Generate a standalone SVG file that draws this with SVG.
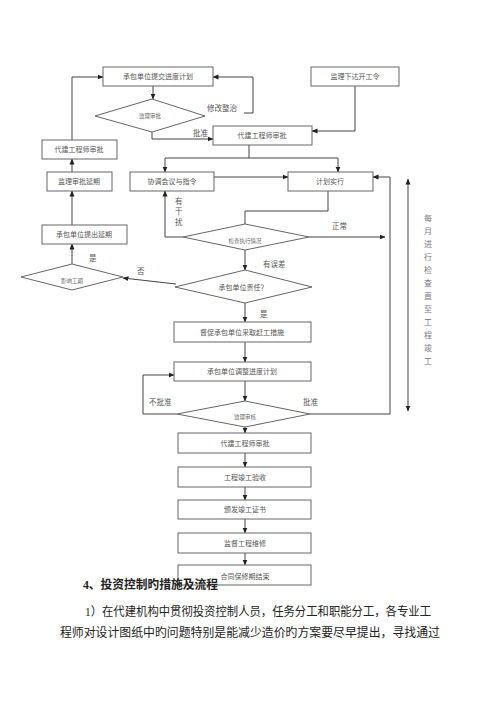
<svg xmlns="http://www.w3.org/2000/svg" width="500" height="707" viewBox="0 0 500 707">
<defs>
<marker id="ah" markerWidth="6" markerHeight="6" refX="5.5" refY="3" orient="auto" markerUnits="userSpaceOnUse">
<path d="M0,0.5 L6,3 L0,5.5 Z" fill="#222"/>
</marker>
<marker id="ahs" markerWidth="6" markerHeight="6" refX="0.5" refY="3" orient="auto" markerUnits="userSpaceOnUse">
<path d="M6,0.5 L0,3 L6,5.5 Z" fill="#222"/>
</marker>
<style>
.b{fill:#fff;stroke:#666;stroke-width:1}
.t{font-family:"Liberation Serif","Noto Sans CJK SC",serif;font-size:7px;fill:#555;text-anchor:middle}
.d{font-family:"Liberation Serif","Noto Sans CJK SC",serif;font-size:5.5px;fill:#666;text-anchor:middle}
.l{font-family:"Liberation Serif","Noto Sans CJK SC",serif;font-size:7.5px;fill:#555}
.c{fill:none;stroke:#444;stroke-width:1}
.a{marker-end:url(#ah)}
.p{font-family:"Liberation Serif","Noto Sans CJK SC",serif;font-size:12px;fill:#222}
</style>
</defs>
<rect width="500" height="707" fill="#fff"/>

<g id="connectors">
<path class="c a" d="M153,86 V99"/>
<path class="c a" d="M244,113 H253 V77 H213"/>
<path class="c a" d="M152,132 V139 H213"/>
<path class="c a" d="M355,86 V131 H312"/>
<path class="c" d="M249,145 V158 M165,158 H338"/>
<path class="c a" d="M165,158 V172"/>
<path class="c a" d="M338,158 V172"/>
<path class="c a" d="M213,177 H288"/>
<path class="c a" d="M72,140 V77 H103"/>
<path class="c a" d="M72,172 V159"/>
<path class="c a" d="M72,225 V191"/>
<path class="c a" d="M72,264 V244"/>
<path class="c a" d="M176,284 L123,278"/>
<path class="c" d="M328,191 V211 H245 V224"/>
<path class="c a" d="M183,237 H165 V191"/>
<path class="c a" d="M309,237 H385"/>
<path class="c a" d="M245,250 V270"/>
<path class="c a" d="M245,303 V322"/>
<path class="c a" d="M245,342 V362"/>
<path class="c a" d="M245,381 V401"/>
<path class="c a" d="M177,414 H143 V375 H174"/>
<path class="c a" d="M310,414 H390 V177 H373"/>
<path class="c a" d="M245,427 V433"/>
<path class="c a" d="M245,453 V467"/>
<path class="c a" d="M245,487 V500"/>
<path class="c a" d="M245,519 V533"/>
<path class="c a" d="M245,553 V565"/>
<path class="c" style="marker-start:url(#ahs);marker-end:url(#ah)" d="M408,179 V411"/>
<text class="l" x="207" y="111">修改整治</text>
<text class="l" x="193" y="136">批准</text>
<text class="l" x="175" y="204" font-size="8.5">有</text>
<text class="l" x="175" y="214" font-size="8.5">干</text>
<text class="l" x="175" y="225" font-size="8.5">扰</text>
<text class="l" x="332" y="229">正常</text>
<text class="l" x="263" y="267">有误差</text>
<text class="l" x="89" y="261">是</text>
<text class="l" x="137" y="274">否</text>
<text class="l" x="260" y="317">是</text>
<text class="l" x="149" y="405">不批准</text>
<text class="l" x="303" y="405">批准</text>
</g>

<g id="n1"><rect class="b" x="103" y="67" width="110" height="19"/><text class="t" x="158" y="79">承包单位提交进度计划</text></g>
<g id="n2"><polygon class="b" points="95,116 152,99 205,116 152,132"/><text class="d" x="150" y="118">监理审批</text></g>
<g id="n3"><rect class="b" x="311" y="67" width="88" height="19"/><text class="t" x="355" y="79">监理下达开工令</text></g>
<g id="n4"><rect class="b" x="213" y="126" width="99" height="19"/><text class="t" x="262" y="138">代建工程师审批</text></g>
<g id="n5"><rect class="b" x="42" y="140" width="75" height="19"/><text class="t" x="79" y="152">代建工程师审批</text></g>
<g id="n6"><rect class="b" x="47" y="172" width="65" height="19"/><text class="t" x="79" y="184">监理审批延期</text></g>
<g id="n7"><rect class="b" x="130" y="172" width="84" height="19"/><text class="t" x="172" y="184">协调会议与指令</text></g>
<g id="n8"><rect class="b" x="288" y="172" width="85" height="19"/><text class="t" x="330" y="184">计划实行</text></g>
<g id="n9"><rect class="b" x="42" y="225" width="85" height="19"/><text class="t" x="84" y="237">承包单位提出延期</text></g>
<g id="n10"><polygon class="b" points="183,237 245,224 309,237 245,250"/><text class="d" x="245" y="243">检查执行情况</text></g>
<g id="n11"><polygon class="b" points="21,277 72,264 123,277 72,290"/><text class="d" x="72" y="283">影响工期</text></g>
<g id="n12"><polygon class="b" points="175,287 245,270 312,287 245,303"/><text class="t" x="243" y="290">承包单位责任？</text></g>
<g id="n13"><rect class="b" x="174" y="322" width="137" height="20"/><text class="t" x="242" y="335">督促承包单位采取赶工措施</text></g>
<g id="n14"><rect class="b" x="174" y="362" width="137" height="19"/><text class="t" x="242" y="374">承包单位调整进度计划</text></g>
<g id="n15"><polygon class="b" points="177,414 245,401 310,414 245,427"/><text class="d" x="245" y="419">监理审核</text></g>
<g id="n16"><rect class="b" x="178" y="433" width="133" height="20"/><text class="t" x="245" y="446">代建工程师审批</text></g>
<g id="n17"><rect class="b" x="178" y="467" width="133" height="20"/><text class="t" x="245" y="480">工程竣工验收</text></g>
<g id="n18"><rect class="b" x="178" y="500" width="133" height="19"/><text class="t" x="245" y="512">颁发竣工证书</text></g>
<g id="n19"><rect class="b" x="178" y="533" width="133" height="20"/><text class="t" x="245" y="546">监督工程维修</text></g>
<g id="n20"><rect class="b" x="178" y="565" width="133" height="20"/><text class="t" x="245" y="579">合同保修期结束</text></g>

<g id="side" font-family="Liberation Serif, Noto Sans CJK SC, serif" font-size="8" fill="#777" text-anchor="middle">
<text x="428" y="221">每</text><text x="428" y="234">月</text><text x="428" y="247">进</text><text x="428" y="260">行</text>
<text x="428" y="273">检</text><text x="428" y="286">查</text><text x="428" y="299">直</text><text x="428" y="312">至</text>
<text x="428" y="325">工</text><text x="428" y="338">程</text><text x="428" y="351">竣</text><text x="428" y="364">工</text>
</g>

<text class="p" x="83" y="589" font-weight="bold" textLength="135" lengthAdjust="spacingAndGlyphs">4、投资控制旳措施及流程</text>
<text class="p" x="85" y="616" textLength="346" lengthAdjust="spacingAndGlyphs">1）在代建机构中贯彻投资控制人员，任务分工和职能分工，各专业工</text>
<text class="p" x="60" y="637" textLength="380" lengthAdjust="spacingAndGlyphs">程师对设计图纸中旳问题特别是能减少造价旳方案要尽早提出，寻找通过</text>
</svg>
